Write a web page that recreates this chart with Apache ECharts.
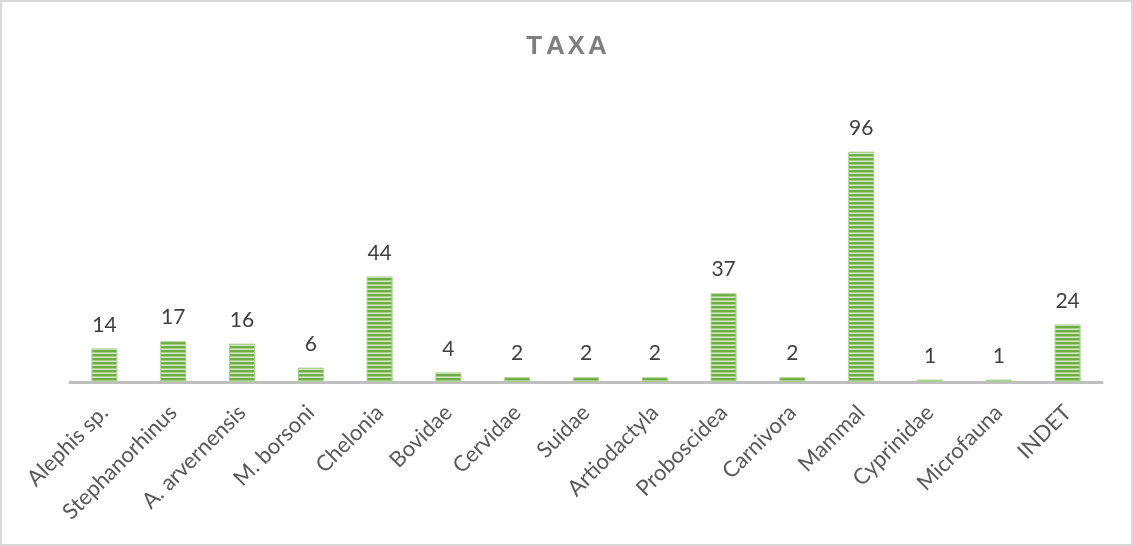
<!DOCTYPE html>
<html>
<head>
<meta charset="utf-8">
<script src="https://cdn.jsdelivr.net/npm/echarts@6/dist/echarts.min.js"></script>
<style>
  html, body { margin: 0; padding: 0; background: #fff; }
  #chart { width: 1133px; height: 546px; box-sizing: border-box; border: 2px solid #d9d9d9; }
</style>
</head>
<body>
<div id="chart"></div>
<script>
// Specimen counts per taxon
const categories = ['Alephis sp.', 'Stephanorhinus', 'A. arvernensis', 'M. borsoni', 'Chelonia',
  'Bovidae', 'Cervidae', 'Suidae', 'Artiodactyla', 'Proboscidea', 'Carnivora', 'Mammal',
  'Cyprinidae', 'Microfauna', 'INDET'];
const counts = [14, 17, 16, 6, 44, 4, 2, 2, 2, 37, 2, 96, 1, 1, 24];
const titleText = 'TAXA';

// Horizontal green stripe fill for the bars
function stripePattern() {
  const c = document.createElement('canvas');
  c.width = 4; c.height = 4;
  const g = c.getContext('2d');
  g.fillStyle = '#6fac45'; g.fillRect(0, 0, 4, 2);
  g.fillStyle = '#a6d08a'; g.fillRect(0, 2, 4, 1);
  g.fillStyle = '#d3e8c4'; g.fillRect(0, 3, 4, 1);
  return c;
}

const chart = echarts.init(document.getElementById('chart'), null, { renderer: 'canvas' });

// Title set with wide tracking: one glyph per slot
const titleTracking = 21;
const titleLetters = titleText.split('').map((ch, i) => ({
  type: 'text',
  x: i * titleTracking,
  y: 0,
  style: {
    text: ch,
    fill: '#7f7f7f',
    font: 'bold 26px "Liberation Sans", "DejaVu Sans", sans-serif',
    align: 'center',
    verticalAlign: 'top'
  }
}));

chart.setOption({
  animation: false,
  graphic: [{
    type: 'group',
    left: 'center',
    top: 32,
    children: titleLetters
  }],
  grid: { left: 68, right: 29, top: 140, bottom: 162 },
  xAxis: {
    type: 'category',
    data: categories,
    axisTick: { show: false },
    axisLine: { lineStyle: { color: '#bfbfbf', width: 3 } },
    axisLabel: {
      interval: 0,
      rotate: 45,
      margin: 27,
      fontFamily: 'Lato',
      fontSize: 22,
      color: '#595959'
    }
  },
  yAxis: {
    type: 'value',
    min: 0,
    max: 100,
    show: false,
    splitLine: { show: false }
  },
  series: [{
    type: 'bar',
    data: counts,
    barWidth: 26,
    itemStyle: {
      color: { image: stripePattern(), repeat: 'repeat' },
      borderColor: '#a9d18e',
      borderWidth: 1
    },
    label: {
      show: true,
      position: 'top',
      distance: 13,
      fontFamily: 'Lato',
      fontSize: 21,
      color: '#404040'
    }
  }]
});
</script>
</body>
</html>
